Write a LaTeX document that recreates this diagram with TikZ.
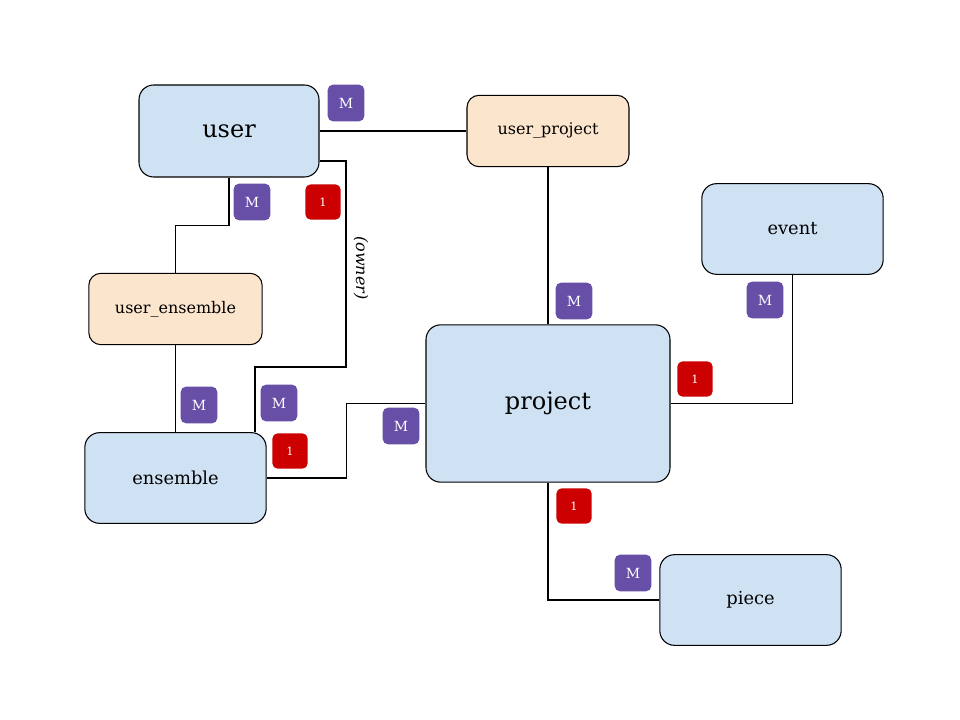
\documentclass[tikz,border=0pt]{standalone}
\usepackage{fontspec}
\setmainfont{DejaVu Serif}
\definecolor{entblue}{HTML}{CFE2F3}
\definecolor{linkpeach}{HTML}{FCE5CD}
\definecolor{manypurple}{HTML}{674EA7}
\definecolor{onered}{HTML}{CC0000}
\tikzstyle{entity}=[draw,line width=0.8pt,rounded corners=11pt,fill=entblue,inner sep=0pt]
\tikzstyle{link}=[draw,line width=0.8pt,rounded corners=9pt,fill=linkpeach,inner sep=0pt,
  minimum height=53.5pt,font=\fontsize{12}{14}\selectfont]
\tikzstyle{badge}=[rounded corners=4pt,minimum size=27.5pt,inner sep=0pt,text=white]
\tikzstyle{conn}=[draw,line width=0.8pt]

\begin{document}
\begin{tikzpicture}[x=0.75pt,y=-0.75pt]
  \useasboundingbox (0,0) rectangle (960,720);

  % the entities and their link tables
  \node[entity,minimum width=135pt,minimum height=69pt,font=\fontsize{18}{21}\selectfont]
    (user) at (229,131) {user};
  \node[entity,minimum width=183pt,minimum height=118pt,font=\fontsize{18}{21}\selectfont]
    (project) at (548,403.5) {project};
  \foreach \pos/\name in {{(792.5,229)/event}, {(175.5,478)/ensemble}, {(750.5,600)/piece}}
    \node[entity,minimum width=136pt,minimum height=68pt,font=\fontsize{13.4}{16}\selectfont]
      (\name) at \pos {\name};
  \node[link,minimum width=121.5pt] (user_project) at (548,131) {user\_project};
  \node[link,minimum width=130pt] (user_ensemble) at (175.5,309) {user\_ensemble};

  % the relations between them
  \path[conn] (user.east) -- (user_project.west);
  \path[conn] (user_project.south) -- (project.north);
  \path[conn] (user.south) -- ++(0,48) -| (user_ensemble.north);
  \path[conn] (user_ensemble.south) -- (ensemble.north);
  \path[conn] ([yshift=-22.5pt]user.east) -| (346,367) -| ([xshift=59.6pt]ensemble.north);
  \node[rotate=-90,font=\itshape\fontsize{12}{14}\selectfont] (owner) at (361,268) {(owner)};
  \path[conn] (ensemble.east) -- ++(80,0) |- (project.west);
  \path[conn] (project.east) -| (event.south);
  \path[conn] (project.south) |- (piece.west);

  % cardinalities
  \foreach \pos/\name in {{(346,103)/mA}, {(252,202)/mB}, {(574,301)/mC}, {(765,300)/mD},
                          {(199,405)/mE}, {(279,403)/mF}, {(401,426)/mG}, {(633,573)/mH}}
    \node[badge,fill=manypurple,font=\fontsize{10.5}{12}\selectfont] (\name) at \pos {M};
  \foreach \pos/\name in {{(323,202)/oA}, {(695,379)/oB}, {(290,451)/oC}, {(574,506)/oD}}
    \node[badge,fill=onered,minimum size=26.5pt,font=\fontsize{8.5}{10}\selectfont] (\name) at \pos {1};
\end{tikzpicture}
\end{document}
